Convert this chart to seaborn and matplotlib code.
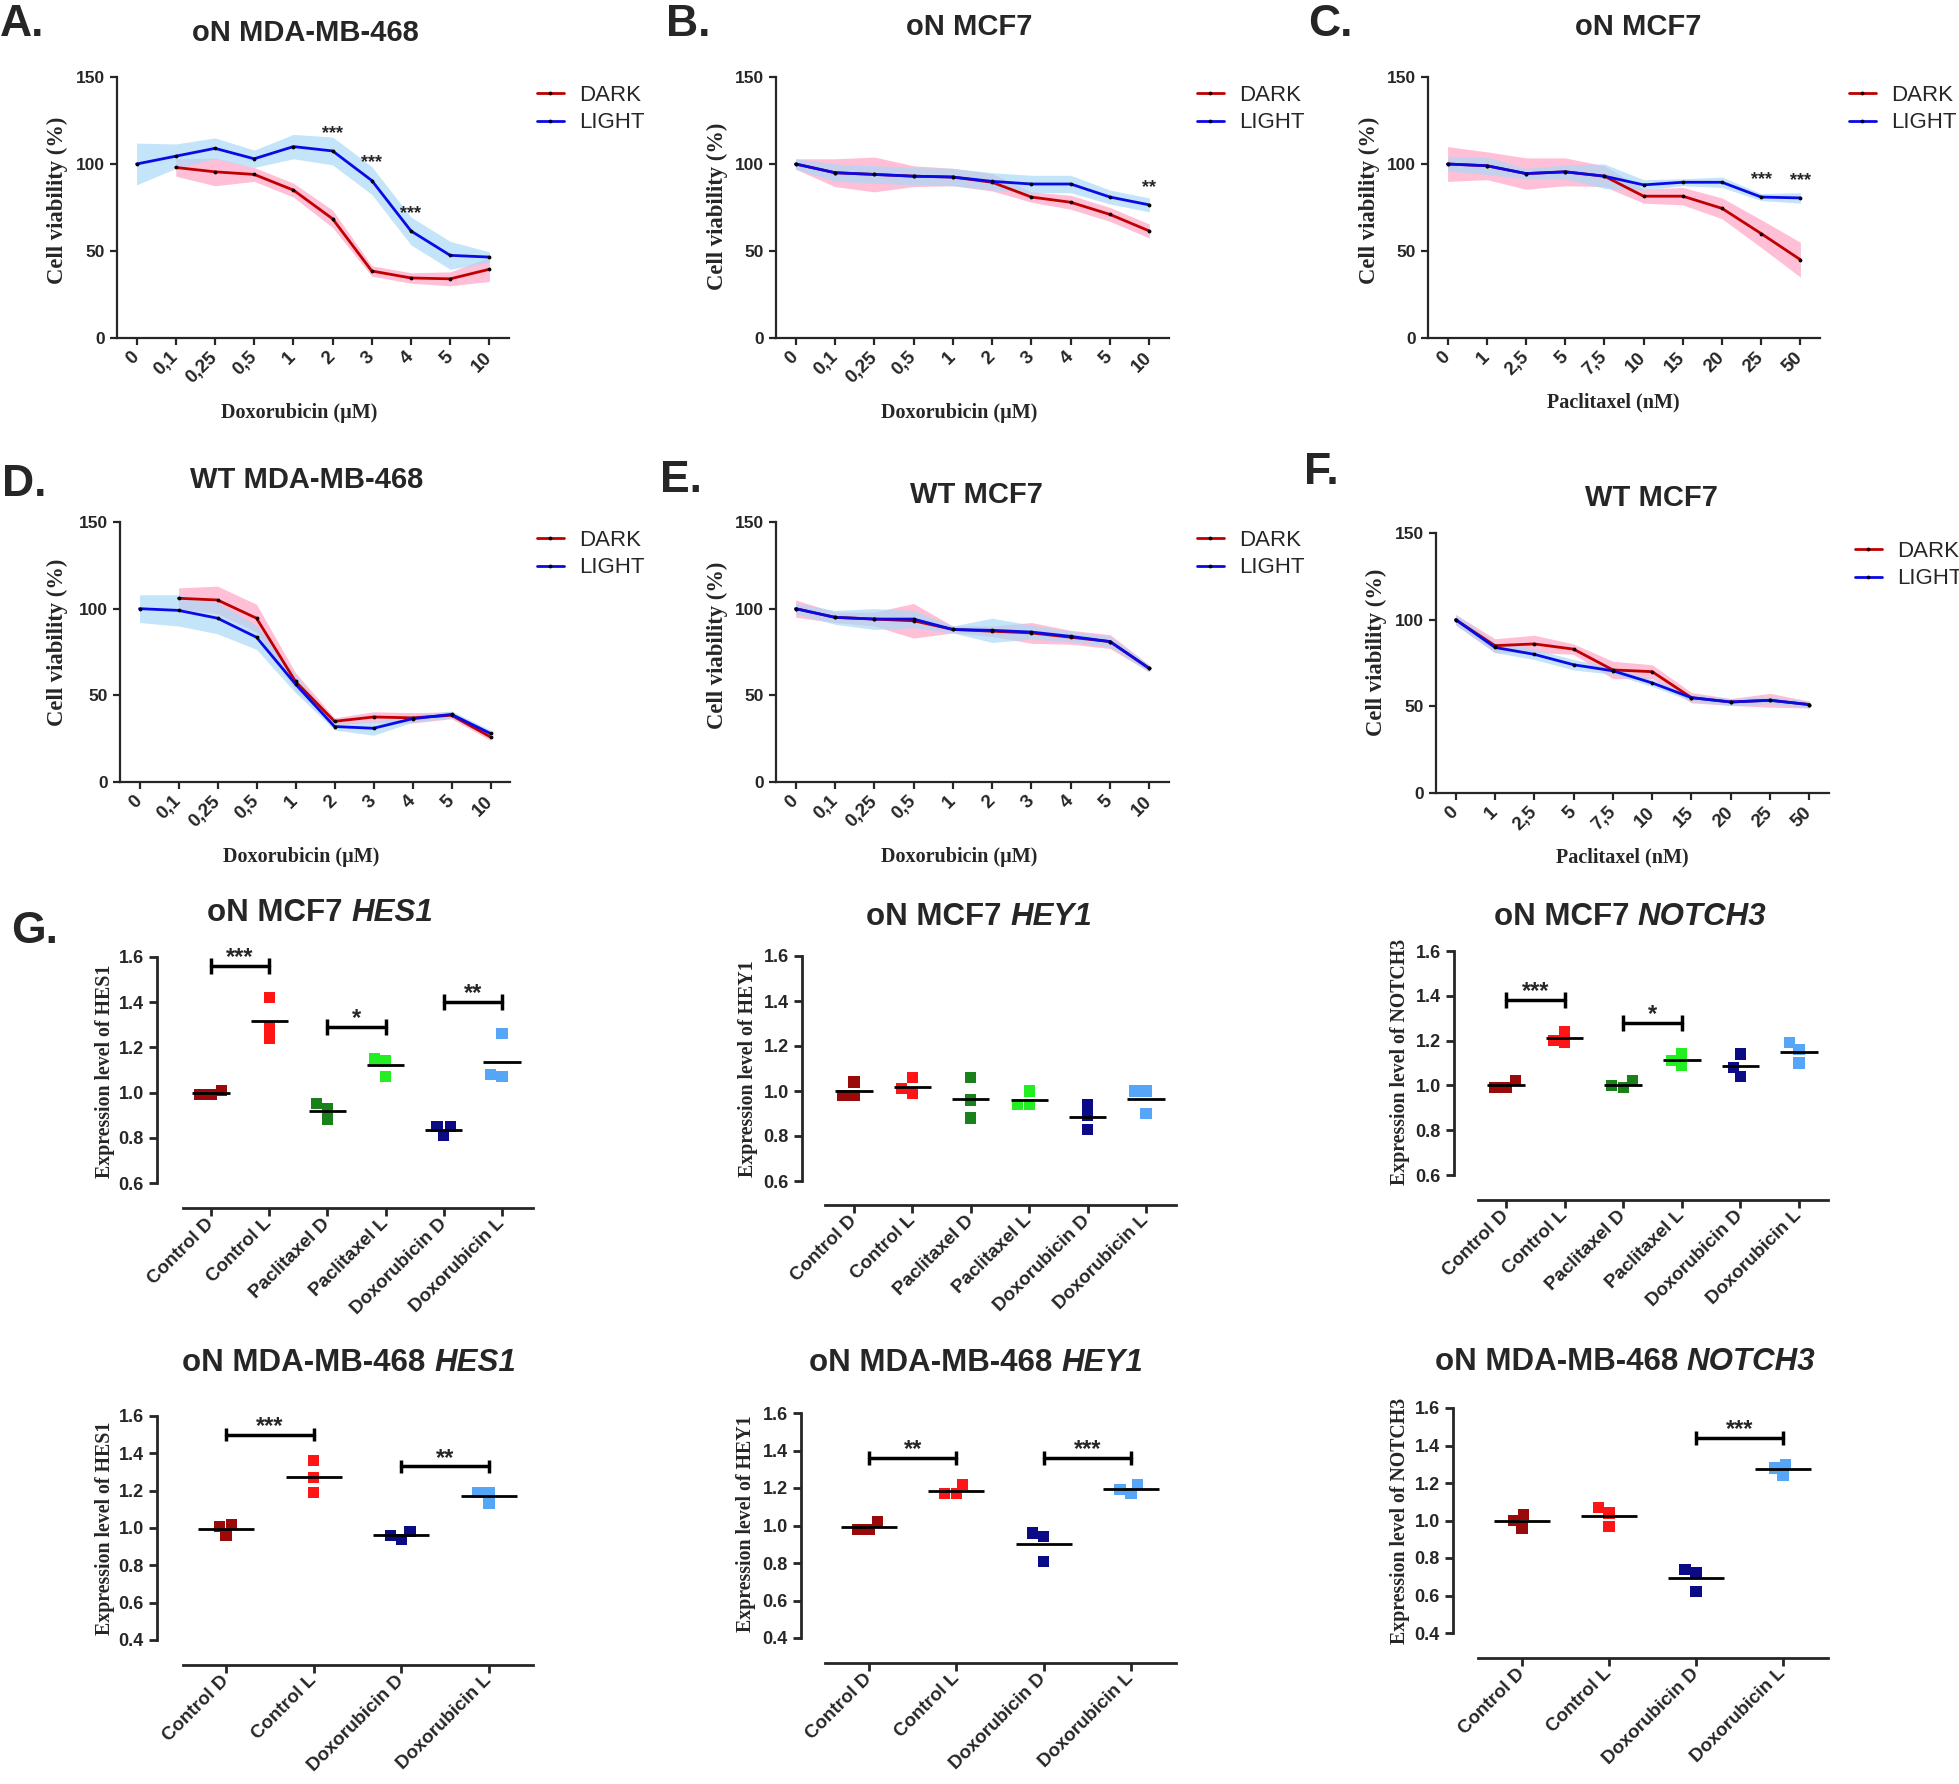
import numpy as np
import pandas as pd
import seaborn as sns
from matplotlib import pyplot as plt
from matplotlib.offsetbox import TextArea, HPacker, AnnotationBbox

sns.set_style('ticks')
plt.rcParams['font.family'] = ['Liberation Sans', 'DejaVu Sans']

W, H = 1959, 1784
SERIF = ['Liberation Serif', 'DejaVu Serif']
RED, BLUE = '#c00000', '#0a0ae6'
PINK, SKY = '#ffb0cc', '#aad9f7'

# ---- cell viability (A-F), mean and spread per dose ----
dox_doses = ['0', '0,1', '0,25', '0,5', '1', '2', '3', '4', '5', '10']
pac_doses = ['0', '1', '2,5', '5', '7,5', '10', '15', '20', '25', '50']

a_dark = [np.nan, 98, 95.5, 94, 85, 68.5, 38.5, 34.5, 34, 39.5]
a_dark_sd = [np.nan, 5, 8, 4, 4, 5, 3, 3, 4, 7]
a_light = [100, 104.5, 109, 103, 110, 107.5, 90.5, 61.5, 47.5, 46.5]
a_light_sd = [12, 7, 6, 5, 7, 8, 8, 8, 8, 3]
a_stars = ['', '', '', '', '', '***', '***', '***', '', '']

b_dark = [100, 95, 94, 93, 92.5, 89.5, 81, 78, 71, 61.5]
b_dark_sd = [3, 8, 10, 6, 5, 5, 3, 4, 4, 4]
b_light = [100, 95, 94, 93, 92.5, 90, 88.5, 88.5, 81, 76.5]
b_light_sd = [3, 5, 5, 5, 5, 5, 5, 5, 4, 4]
b_stars = ['', '', '', '', '', '', '', '', '', '**']

c_dark = [100, 99, 94.5, 95.5, 93, 81.5, 81.5, 74.5, 60, 45]
c_dark_sd = [10, 8, 9, 8, 6, 4, 5, 6, 8, 10]
c_light = [100, 99, 94.5, 95.5, 93, 88, 89.5, 89.5, 81, 80.5]
c_light_sd = [4, 5, 3, 4, 7, 3, 2, 3, 2, 3]
c_stars = ['', '', '', '', '', '', '', '', '***', '***']

d_dark = [np.nan, 106, 105, 94.5, 58, 35, 37.5, 37, 38.5, 26]
d_dark_sd = [np.nan, 6, 8, 8, 5, 2, 3, 3, 2, 2]
d_light = [100, 99, 94.5, 83.5, 56.5, 32, 31, 36.5, 39, 28]
d_light_sd = [8, 9, 9, 7, 5, 2, 4, 2, 2, 2]

e_dark = [100, 95, 94, 93, 88, 87, 86, 83.5, 81, 65.5]
e_dark_sd = [5, 3, 4, 10, 2, 3, 6, 4, 4, 2]
e_light = [100, 95, 94, 94, 88, 87.5, 86.5, 84, 81, 65.5]
e_light_sd = [3, 4, 6, 5, 2, 7, 4, 3, 3, 2]

f_dark = [100, 85, 86, 83, 71, 70, 55, 52.5, 53.5, 51]
f_dark_sd = [3, 4, 5, 3, 5, 4, 3, 2, 4, 2]
f_light = [100, 84, 80, 74, 70.5, 63.5, 55, 52.5, 53.5, 51]
f_light_sd = [3, 3, 3, 3, 2, 2, 2, 2, 2, 2]
no_stars = [''] * 10

# ---- gene expression (G), three replicates per group ----
groups6 = ['Control D', 'Control L', 'Paclitaxel D', 'Paclitaxel L', 'Doxorubicin D', 'Doxorubicin L']
groups4 = ['Control D', 'Control L', 'Doxorubicin D', 'Doxorubicin L']
group_colors = {'Control D': '#9a0a0a', 'Control L': '#ff1515', 'Paclitaxel D': '#1a801a',
                'Paclitaxel L': '#22ee22', 'Doxorubicin D': '#0b0b85', 'Doxorubicin L': '#55a6f6'}

mcf7_hes1 = [[1.01, 0.99, 0.99], [1.42, 1.29, 1.24], [0.95, 0.93, 0.88],
             [1.15, 1.14, 1.07], [0.85, 0.85, 0.81], [1.26, 1.08, 1.07]]
mcf7_hey1 = [[1.04, 0.98, 0.98], [1.06, 1.01, 0.99], [1.06, 0.96, 0.88],
             [1.00, 0.94, 0.94], [0.94, 0.89, 0.83], [1.00, 1.00, 0.90]]
mcf7_notch3 = [[1.02, 0.99, 0.99], [1.24, 1.20, 1.19], [1.02, 1.00, 0.99],
               [1.14, 1.11, 1.09], [1.14, 1.08, 1.04], [1.19, 1.16, 1.10]]
mda_hes1 = [[1.02, 0.96, 1.01], [1.36, 1.27, 1.19], [0.98, 0.94, 0.96], [1.19, 1.13, 1.19]]
mda_hey1 = [[1.02, 0.98, 0.98], [1.22, 1.17, 1.17], [0.96, 0.94, 0.81], [1.22, 1.17, 1.19]]
mda_notch3 = [[1.03, 0.96, 1.00], [1.07, 0.97, 1.04], [0.74, 0.72, 0.62], [1.30, 1.24, 1.28]]

mcf7_hes1_sig = [(0, 1, '***'), (2, 3, '*'), (4, 5, '**')]
mcf7_hey1_sig = []
mcf7_notch3_sig = [(0, 1, '***'), (2, 3, '*')]
mda_hes1_sig = [(0, 1, '***'), (2, 3, '**')]
mda_hey1_sig = [(0, 1, '**'), (2, 3, '***')]
mda_notch3_sig = [(2, 3, '***')]


def rect(l, t, r, b):
    return [l / W, 1 - b / H, (r - l) / W, (b - t) / H]


def fxy(x, y):
    return x / W, 1 - y / H


fig = plt.figure(figsize=(W / 100, H / 100), dpi=100)


def viability(box, doses, dark, dark_sd, light, light_sd, stars, title, title_xy,
              xlabel, xlabel_xy, ylabel_xy, legend_xy, letter, letter_xy):
    ax = fig.add_axes(rect(*box))
    idx = np.arange(len(doses))
    dark, dark_sd = np.array(dark, float), np.array(dark_sd, float)
    light, light_sd = np.array(light, float), np.array(light_sd, float)
    ax.fill_between(idx, dark - dark_sd, dark + dark_sd, color=PINK, lw=0, alpha=0.8)
    ax.fill_between(idx, light - light_sd, light + light_sd, color=SKY, lw=0, alpha=0.7)
    df = pd.DataFrame({'dose': idx, 'DARK': dark, 'LIGHT': light})
    for col, c in [('DARK', RED), ('LIGHT', BLUE)]:
        sns.lineplot(data=df, x='dose', y=col, color=c, lw=2, marker='o', markersize=2,
                     markerfacecolor='black', markeredgecolor='black', label=col, ax=ax)
    for i, s in enumerate(stars):
        if s:
            ax.text(i, light[i] + 7.5, s, ha='center', va='baseline', fontsize=13, fontweight='bold')
    ax.set_xlim(-0.5, len(doses) - 0.5)
    ax.set_ylim(0, 150)
    ax.set_yticks([0, 50, 100, 150], ['0', '50', '100', '150'], fontsize=12.5, fontweight='bold')
    ax.set_xticks(idx, doses, rotation=45, ha='right', va='center', rotation_mode='anchor',
                  fontsize=13.5, fontweight='bold')
    ax.tick_params(width=1.6, length=5)
    ax.tick_params(axis='x', pad=7)
    sns.despine(ax=ax)
    for sp in ax.spines.values():
        sp.set_linewidth(1.6)
    ax.set_xlabel(xlabel, family=SERIF, fontweight='bold', fontsize=14.5)
    ax.xaxis.set_label_coords(*fxy(*xlabel_xy), transform=fig.transFigure)
    ax.xaxis.label.set_va('center')
    ax.set_ylabel('Cell viability (%)', family=SERIF, fontweight='bold', fontsize=16.3)
    ax.yaxis.set_label_coords(*fxy(*ylabel_xy), transform=fig.transFigure)
    ax.yaxis.label.set_va('center')
    ax.legend(loc='center left', bbox_to_anchor=fxy(*legend_xy), bbox_transform=fig.transFigure,
              frameon=False, fontsize=16, handlelength=1.2, handletextpad=0.7,
              labelspacing=0.3, borderpad=0, borderaxespad=0)
    fig.text(*fxy(*title_xy), title, ha='center', va='center', fontsize=21, fontweight='bold')
    fig.text(*fxy(*letter_xy), letter, ha='left', va='center', fontsize=32, fontweight='bold')


def gene_title(xy, prefix, gene, size=22.5):
    parts = [TextArea(prefix, textprops=dict(fontsize=size, fontweight='bold')),
             TextArea(gene, textprops=dict(fontsize=size, fontweight='bold', style='italic'))]
    box = HPacker(children=parts, align='baseline', pad=0, sep=0.28 * size)
    fig.add_artist(AnnotationBbox(box, fxy(*xy), xycoords='figure fraction',
                                  box_alignment=(0.5, 0.5), frameon=False, pad=0))


def expression(lay, groups, values, sigs, prefix, gene, title_xy, ylabel_xy, ylo):
    yax, x0, x1, xs_l, xs_r, py_hi, py_lo, xs_y = lay
    n = len(groups)
    ux = (x1 - x0) / (n - 1)
    uy = (py_lo - py_hi) / (1.6 - ylo)
    ax = fig.add_axes(rect(yax, py_hi - 0.2 * uy, xs_r, xs_y))
    df = pd.DataFrame({'group': np.repeat(groups, 3), 'value': np.concatenate(values)})
    sns.swarmplot(data=df, x='group', y='value', hue='group', order=groups, hue_order=groups,
                  palette=group_colors, marker='s', size=8, linewidth=0, legend=False, ax=ax)
    means = df.groupby('group', sort=False)['value'].mean().reindex(groups)
    pos = np.arange(n)
    ax.hlines(means.values, pos - 0.32, pos + 0.32, color='black', lw=2, zorder=5)
    for i, j, s in sigs:
        top = df[df['group'].isin([groups[i], groups[j]])]['value'].max() + 0.14
        ax.plot([i, j], [top, top], color='black', lw=2.5, clip_on=False)
        ax.vlines([i, j], top - 0.035, top + 0.035, color='black', lw=2.5, clip_on=False)
        ax.text((i + j) / 2, top + 0.008, s, ha='center', va='baseline', fontsize=17, fontweight='bold')
    ax.set_xlim(-(x0 - yax) / ux, (xs_r - x0) / ux)
    ax.set_ylim(ylo - (xs_y - py_lo) / uy, 1.8)
    ticks = np.round(np.arange(ylo, 1.61, 0.2), 1)
    ax.set_yticks(ticks, [f'{t:.1f}' for t in ticks], fontsize=13, fontweight='bold')
    ax.set_xticks(pos, groups, rotation=45, ha='right', va='center', rotation_mode='anchor',
                  fontsize=13.5, fontweight='bold')
    ax.tick_params(width=2, length=6)
    sns.despine(ax=ax)
    ax.spines['left'].set_bounds(ylo, 1.6)
    ax.spines['bottom'].set_bounds((xs_l - x0) / ux, (xs_r - x0) / ux)
    for sp in ax.spines.values():
        sp.set_linewidth(2)
    ax.set_xlabel('')
    ax.set_ylabel(f'Expression level of {gene}', family=SERIF, fontweight='bold', fontsize=14.3)
    ax.yaxis.set_label_coords(*fxy(*ylabel_xy), transform=fig.transFigure)
    ax.yaxis.label.set_va('center')
    gene_title(title_xy, prefix, gene)


viability((117, 77, 509, 338), dox_doses, a_dark, a_dark_sd, a_light, a_light_sd, a_stars,
          'oN MDA-MB-468', (305, 33), 'Doxorubicin (µM)', (299, 413), (57, 200), (537, 109), 'A.', (0, 24))
viability((776, 77, 1169, 338), dox_doses, b_dark, b_dark_sd, b_light, b_light_sd, b_stars,
          'oN MCF7', (969, 27), 'Doxorubicin (µM)', (959, 413), (717, 206), (1197, 109), 'B.', (666, 24))
viability((1428, 77, 1820, 338), pac_doses, c_dark, c_dark_sd, c_light, c_light_sd, c_stars,
          'oN MCF7', (1638, 27), 'Paclitaxel (nM)', (1613, 402), (1369, 200), (1849, 109), 'C.', (1308, 24))
viability((120, 522, 510, 782), dox_doses, d_dark, d_dark_sd, d_light, d_light_sd, no_stars,
          'WT MDA-MB-468', (307, 480), 'Doxorubicin (µM)', (301, 857), (57, 642), (537, 554), 'D.', (2, 485))
viability((776, 522, 1169, 782), dox_doses, e_dark, e_dark_sd, e_light, e_light_sd, no_stars,
          'WT MCF7', (976, 495), 'Doxorubicin (µM)', (959, 857), (717, 645), (1197, 554), 'E.', (660, 481))
viability((1436, 533, 1829, 793), pac_doses, f_dark, f_dark_sd, f_light, f_light_sd, no_stars,
          'WT MCF7', (1651, 498), 'Paclitaxel (nM)', (1622, 857), (1376, 652), (1855, 565), 'F.', (1304, 473))

expression((157, 211, 502, 183, 533, 957, 1183, 1208), groups6, mcf7_hes1, mcf7_hes1_sig,
           'oN MCF7', 'HES1', (320, 913), (105, 1071), 0.6)
expression((802, 854, 1146, 825, 1176, 956, 1181, 1205), groups6, mcf7_hey1, mcf7_hey1_sig,
           'oN MCF7', 'HEY1', (979, 917), (748, 1069), 0.6)
expression((1454, 1506, 1799, 1478, 1828, 951, 1175, 1200), groups6, mcf7_notch3, mcf7_notch3_sig,
           'oN MCF7', 'NOTCH3', (1630, 917), (1400, 1062), 0.6)
expression((157, 226, 489, 183, 533, 1416, 1640, 1665), groups4, mda_hes1, mda_hes1_sig,
           'oN MDA-MB-468', 'HES1', (349, 1363), (105, 1528), 0.4)
expression((801, 869, 1131, 825, 1176, 1413, 1638, 1663), groups4, mda_hey1, mda_hey1_sig,
           'oN MDA-MB-468', 'HEY1', (976, 1363), (746, 1524), 0.4)
expression((1453, 1522, 1783, 1478, 1828, 1408, 1633, 1658), groups4, mda_notch3, mda_notch3_sig,
           'oN MDA-MB-468', 'NOTCH3', (1625, 1362), (1400, 1521), 0.4)

fig.text(*fxy(11, 931), 'G.', ha='left', va='center', fontsize=32, fontweight='bold')

fig.savefig('out.png', dpi=100)
